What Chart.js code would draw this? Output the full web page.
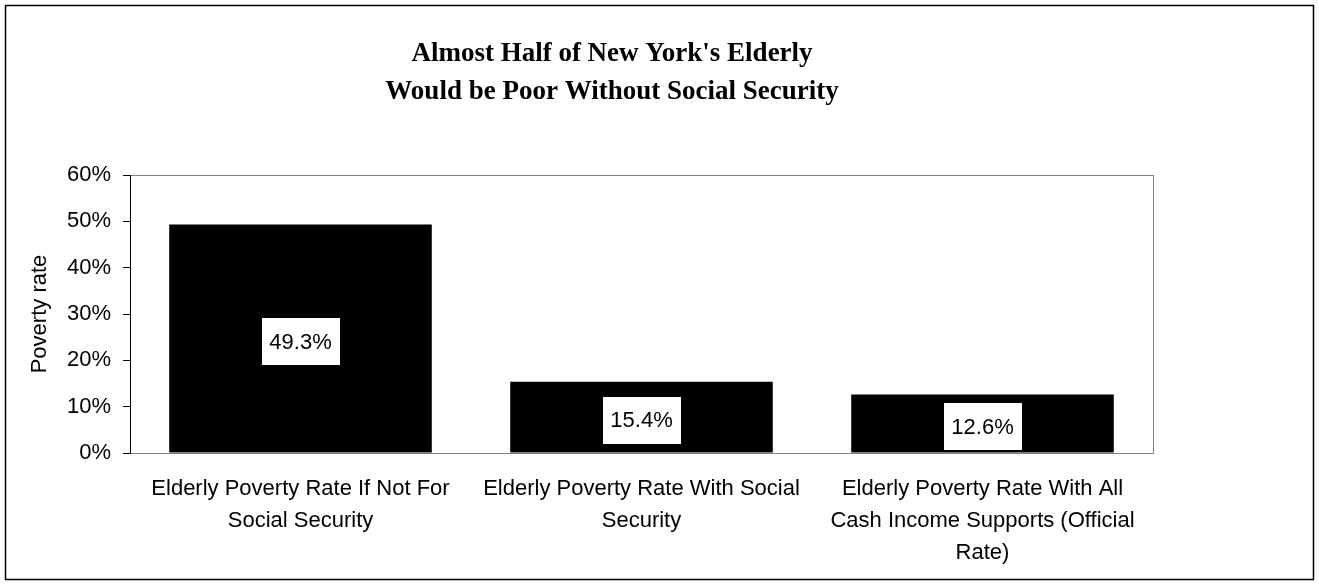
<!DOCTYPE html>
<html>
<head>
<meta charset="utf-8">
<script src="https://cdn.jsdelivr.net/npm/chart.js@4"></script>
<style>
  html, body { margin: 0; padding: 0; background: #fff; }
  #wrap { width: 1319px; height: 585px; }
</style>
</head>
<body>
<div id="wrap"><canvas id="povertyChart" width="1319" height="585"></canvas></div>
<script>
const categories = [
    ['Elderly Poverty Rate If Not For', 'Social Security'],
    ['Elderly Poverty Rate With Social', 'Security'],
    ['Elderly Poverty Rate With All', 'Cash Income Supports (Official', 'Rate)']
];
const povertyRates = [49.3, 15.4, 12.6];
const yMin = 0;
const yMax = 60;
const yStep = 10;
const titleLines = ["Almost Half of New York's Elderly", 'Would be Poor Without Social Security'];
const yAxisTitle = 'Poverty rate';

const sansFont = "'Liberation Sans', Arial, sans-serif";
const serifFont = "'Liberation Serif', 'Times New Roman', serif";

// white page, outer frame and the thin grey box round the plot
const framePlugin = {
    id: 'frame',
    beforeDraw(chart) {
        const ctx = chart.ctx;
        const area = chart.chartArea;
        ctx.save();
        ctx.fillStyle = '#fff';
        ctx.fillRect(0, 0, chart.width, chart.height);
        ctx.strokeStyle = '#000';
        ctx.lineWidth = 1.5;
        ctx.strokeRect(5.5, 5.5, chart.width - 11, chart.height - 11);
        ctx.strokeStyle = '#808080';
        ctx.lineWidth = 1;
        ctx.strokeRect(Math.round(area.left) + 0.5, Math.round(area.top) + 0.5,
            Math.round(area.right - area.left), Math.round(area.bottom - area.top));
        ctx.restore();
    }
};

// two-line heading above the plot
const headingPlugin = {
    id: 'heading',
    afterDraw(chart) {
        const ctx = chart.ctx;
        ctx.save();
        ctx.font = 'bold 27px ' + serifFont;
        ctx.fillStyle = '#000';
        ctx.textAlign = 'center';
        ctx.textBaseline = 'alphabetic';
        titleLines.forEach((line, i) => ctx.fillText(line, 612, 61 + i * 38));
        ctx.restore();
    }
};

// value labels in white boxes, centred in each bar
const valueBoxPlugin = {
    id: 'valueBoxes',
    afterDatasetsDraw(chart) {
        const ctx = chart.ctx;
        const meta = chart.getDatasetMeta(0);
        ctx.save();
        ctx.font = '22px ' + sansFont;
        ctx.textAlign = 'center';
        ctx.textBaseline = 'middle';
        meta.data.forEach((bar, i) => {
            const cx = bar.x;
            const cy = (bar.y + bar.base) / 2 + 3;
            const w = 78, h = 47;
            ctx.fillStyle = '#fff';
            ctx.fillRect(Math.round(cx - w / 2), Math.round(cy - h / 2), w, h);
            ctx.fillStyle = '#000';
            ctx.fillText(povertyRates[i].toFixed(1) + '%', cx, cy + 1);
        });
        ctx.restore();
    }
};

new Chart(document.getElementById('povertyChart').getContext('2d'), {
    type: 'bar',
    data: {
        labels: categories,
        datasets: [{
            data: povertyRates,
            backgroundColor: '#000',
            borderWidth: 0,
            barPercentage: 0.77,
            categoryPercentage: 1.0
        }]
    },
    options: {
        responsive: false,
        animation: false,
        layout: { padding: { left: 0, right: 166, top: 175, bottom: 0 } },
        plugins: {
            legend: { display: false },
            tooltip: { enabled: false },
            title: { display: false }
        },
        scales: {
            x: {
                grid: { display: false, drawTicks: false },
                border: { display: true, color: '#808080' },
                ticks: {
                    color: '#000',
                    font: { family: sansFont, size: 22, lineHeight: 1.45 },
                    padding: 20,
                    maxRotation: 0,
                    autoSkip: false
                },
                afterFit(scale) { scale.height = 132; }
            },
            y: {
                min: yMin,
                max: yMax,
                ticks: {
                    stepSize: yStep,
                    color: '#000',
                    font: { family: sansFont, size: 22 },
                    padding: 12,
                    callback: v => v + '%'
                },
                grid: { drawOnChartArea: false, drawTicks: true, tickLength: 7, color: '#000' },
                border: { display: true, color: '#000', width: 1 },
                title: {
                    display: true,
                    text: yAxisTitle,
                    color: '#000',
                    font: { family: sansFont, size: 22 },
                    padding: { top: 27, bottom: 0 }
                },
                afterFit(scale) { scale.width = 130; }
            }
        }
    },
    plugins: [framePlugin, headingPlugin, valueBoxPlugin]
});
</script>
</body>
</html>
